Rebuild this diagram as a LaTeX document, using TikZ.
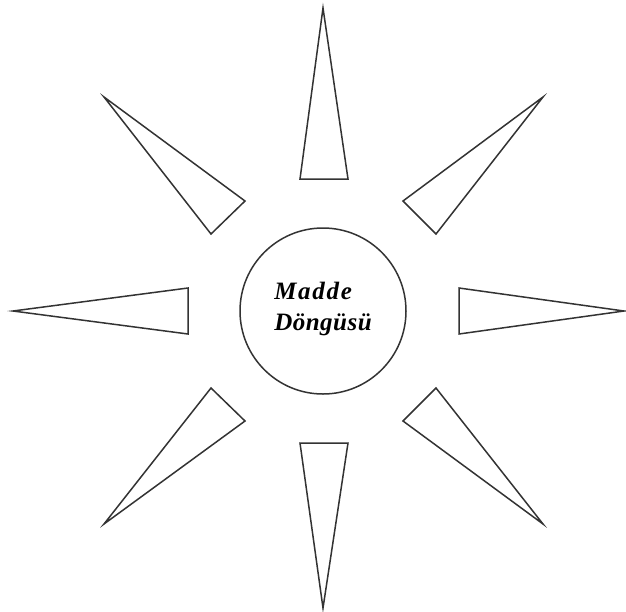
\documentclass[tikz,border=0pt]{standalone}
\usepackage{fontspec}
\setmainfont{Liberation Serif}
\tikzset{
 sun/.style={x=1pt,y=-1pt,line join=miter},
 ray/.style={draw=black!80,line width=1.5pt},
 hub/.style={circle,draw=black!80,line width=1.5pt,inner sep=0pt,minimum size=166pt},
 hubtext/.style={font=\fontsize{25}{31}\selectfont\bfseries\itshape,align=left,text=black}
}
\begin{document}
\begin{tikzpicture}[sun]
 \useasboundingbox (0,0) rectangle (626,611);
 \node[hub] (cycle) at (323,311) {};
 \node[hubtext] (label) at (323,309)
  {{\addfontfeature{LetterSpace=7}Madde}\\{\addfontfeature{LetterSpace=2}Döngüsü}};
 % rays: apex / base corner / base corner
 \foreach \ax/\ay/\bx/\by/\cx/\cy in {
   323/8/300/179/348/179,
   323/608/300/443/348/443,
   13/311/188/288/188/334,
   624/311/459/288/459/334,
   104/97/245/201/211/234,
   543/97/403/201/436/234,
   104/524/211/388/245/421,
   543/524/403/421/436/388}
  {\draw[ray] (\ax,\ay) -- (\bx,\by) -- (\cx,\cy) -- cycle;}
\end{tikzpicture}
\end{document}
